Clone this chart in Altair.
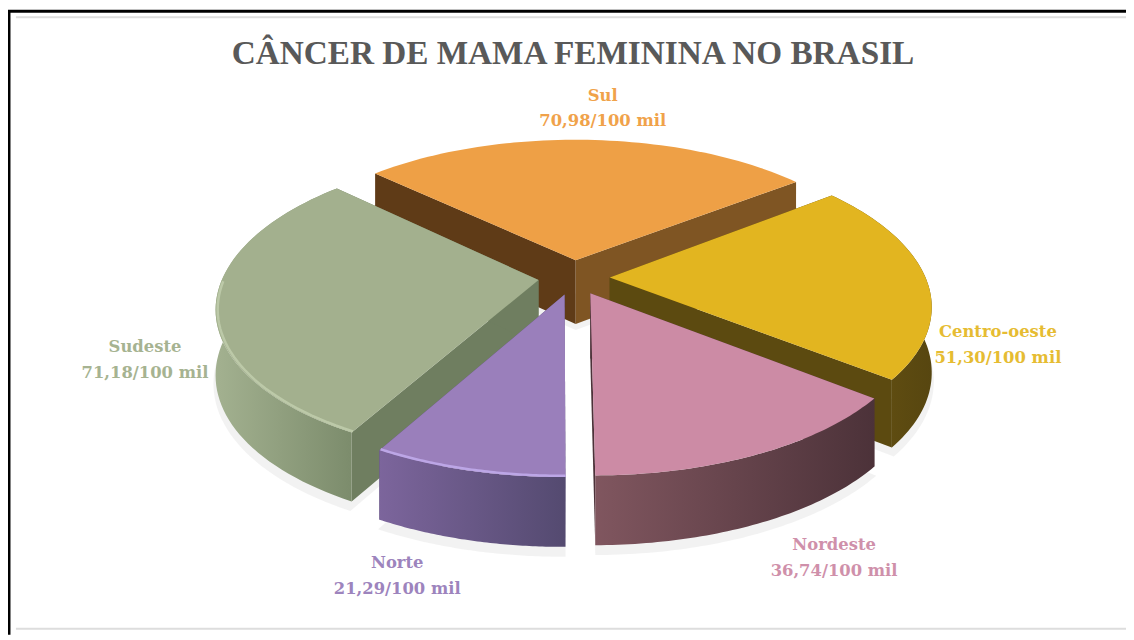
import math
import altair as alt
import pandas as pd

regions = ["Sul", "Centro-oeste", "Nordeste", "Norte", "Sudeste"]
rates = [70.98, 51.30, 36.74, 21.29, 71.18]
rate_text = ["70,98/100 mil", "51,30/100 mil", "36,74/100 mil", "21,29/100 mil", "71,18/100 mil"]
top_colors = ["#EEA046", "#E2B520", "#CC8BA5", "#9A7FBB", "#A3B08E"]
rim_colors = ["#F4AE5A", "#E2B520", "#D898B2", "#BCA6E6", "#BCC9A8"]
wall_stops = [["#7F5523", "#7F5523"], ["#6A5512", "#574610"], ["#80565F", "#4C3239"],
              ["#7C659C", "#544A70"], ["#A3B190", "#7C8C6C"]]
radial_colors = ["#5F3B17", "#5C4A10", "#4C3239", "#544A70", "#6F7E60"]
label_colors = ["#F0A24A", "#E6BC32", "#CF90AA", "#9D84BD", "#A6B391"]
TITLE = "CÂNCER DE MAMA FEMININA NO BRASIL"

W, H = 1126, 632
CX, CY, R, E, DEPTH, K = 578, 277, 318, 36, 65, 0.49
START = -48
total = sum(rates)


def project(theta, r, ex, mid, z=0):
    a, m = math.radians(theta), math.radians(mid)
    X = r * math.sin(a) + ex * math.sin(m)
    Y = r * math.cos(a) + ex * math.cos(m)
    front = min(Y, 0)
    sx = 1 - Y / 1700 - 2.2e-7 * front * front
    sy = 1 - Y / 1760 - 2.96e-7 * front * front
    return CX + sx * X, CY + sy * (-K * Y) + (sy + 1) / 2 * z


def arc_angles(a0, a1, n=60):
    return [a0 + (a1 - a0) * i / n for i in range(n + 1)]


X_SC = alt.Scale(domain=[8, 8 + W], nice=False, zero=False)
Y_SC = alt.Scale(domain=[8 + H, 8], nice=False, zero=False)


def shape(points, fill=None, stroke=None, sw=0, opacity=1):
    df = pd.DataFrame({"x": [p[0] for p in points], "y": [p[1] for p in points],
                       "o": list(range(len(points)))})
    kw = {"strokeWidth": sw, "opacity": opacity, "clip": False}
    if fill is not None:
        kw["fill"] = fill
    kw["stroke"] = stroke if stroke else "transparent"
    return alt.Chart(df).mark_line(**kw).encode(
        x=alt.X("x:Q", scale=X_SC, axis=None),
        y=alt.Y("y:Q", scale=Y_SC, axis=None),
        order="o:Q",
    )


def hgrad(c0, c1):
    return alt.LinearGradient(gradient="linear", x1=0, x2=1, y1=0, y2=0,
                              stops=[alt.GradientStop(color=c0, offset=0),
                                     alt.GradientStop(color=c1, offset=1)])


# angular spans from the values
spans, a = [], START
for v in rates:
    b = a + v / total * 360
    spans.append((a, b, (a + b) / 2))
    a = b

paint_order = [0, 1, 4, 2, 3]
layers = []

# soft shadow beneath the pie
for i in paint_order:
    a0, a1, m = spans[i]
    pts = [project(m, 0, E, m, DEPTH + 6)] + [project(t, R + 2, E, m, DEPTH + 8) for t in arc_angles(a0, a1)]
    layers.append(shape(pts + pts[:1], fill="#EDEDED", opacity=0.7))

for i in paint_order:
    a0, a1, m = spans[i]
    apex = project(m, 0, E, m)
    apex_b = project(m, 0, E, m, DEPTH)
    # radial walls
    for t, col in ((a0, radial_colors[i] if i != 0 else "#5F3B17"),
                   (a1, radial_colors[i] if i != 0 else "#7F5523")):
        c = project(t, R, E, m)
        cb = project(t, R, E, m, DEPTH)
        layers.append(shape([apex, c, cb, apex_b, apex], fill=col))
    angs = arc_angles(a0, a1)
    # outer wall (the back slice's is hidden)
    if i != 0:
        wall = [project(t, R, E, m) for t in angs] + [project(t, R, E, m, DEPTH) for t in reversed(angs)]
        c0, c1 = wall_stops[i]
        layers.append(shape(wall + wall[:1], fill=hgrad(c0, c1)))
    # top face
    top = [apex] + [project(t, R, E, m) for t in angs] + [apex]
    layers.append(shape(top, fill=top_colors[i]))
    # bevel highlight on the front part of the rim
    front = [t for t in angs if math.cos(math.radians(t)) < 0]
    if front and i in (3, 4):
        layers.append(shape([project(t, R - 2, E, m) for t in front], stroke=rim_colors[i], sw=2.5))


def px(v):
    return alt.value(v - 8)


def rule(x0, x1, y0, y1, color, sw, dash=None):
    kw = {"color": color, "strokeWidth": sw}
    if dash:
        kw["strokeDash"] = dash
    return alt.Chart(pd.DataFrame({"a": [0]})).mark_rule(**kw).encode(
        x=px(x0), x2=px(x1), y=px(y0), y2=px(y1))


frame = [
    rule(16, 1134, 15, 15, "#DDDDDD", 2),
    rule(16, 1134, 631, 631, "#DDDDDD", 2),
    rule(8, 1134, 9, 9, "#000000", 3),
    rule(9, 9, 8, 637, "#000000", 3),
]

# data labels: centre of each two-line label
label_x = [607, 1005, 840, 400, 146]
label_y = [107, 345, 560, 578, 360]
label_rows = []
for i in range(len(regions)):
    label_rows.append({"x": label_x[i], "y": label_y[i] - 13, "t": regions[i], "c": label_colors[i]})
    label_rows.append({"x": label_x[i], "y": label_y[i] + 13, "t": rate_text[i], "c": label_colors[i]})
labels = alt.Chart(pd.DataFrame(label_rows)).mark_text(
    font="DejaVu Serif", fontWeight="bold", fontSize=16.5, align="center", baseline="middle"
).encode(
    x=alt.X("x:Q", scale=X_SC, axis=None),
    y=alt.Y("y:Q", scale=Y_SC, axis=None),
    text="t:N",
    color=alt.Color("c:N", scale=None, legend=None),
)

title = alt.Chart(pd.DataFrame({"t": [TITLE]})).mark_text(
    font="Liberation Serif", fontWeight="bold", fontSize=33.5, color="#595959", align="center", baseline="middle"
).encode(x=px(577), y=px(52), text="t:N")

chart = alt.layer(*layers, *frame, labels, title).properties(
    width=W, height=H, padding=0,
    autosize=alt.AutoSizeParams(type="none", contains="padding"),
    background="white",
).configure_view(stroke=None)

chart.save("out.html", embed_options={"renderer": "svg", "actions": False})
